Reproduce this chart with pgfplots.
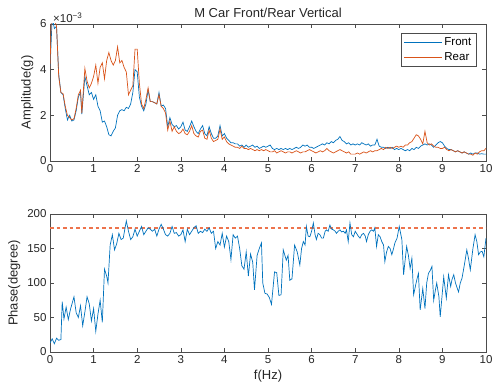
\documentclass[border=0pt]{standalone}
\usepackage{fontspec}
\setmainfont{Liberation Sans}
\usepackage{pgfplots}
\pgfplotsset{compat=1.18}
\definecolor{mblue}{rgb}{0,0.447,0.741}
\definecolor{morange}{rgb}{0.85,0.325,0.098}
\definecolor{mdash}{rgb}{0.93,0.45,0.30}
\pgfplotsset{
  mystyle/.style={
    scale only axis, width=436pt, xmin=0, xmax=10, xtick={0,1,...,10},
    tick align=inside, tick pos=both, major tick length=4pt,
    axis line style={draw=black!70, line width=0.5pt},
    tick style={draw=black!70, line width=0.5pt},
    tick label style={font=\fontsize{11.5}{12}\selectfont, text=black!85},
    label style={font=\fontsize{13}{14}\selectfont, text=black!85},
    title style={font=\fontsize{13}{14}\selectfont, text=black!85},
    every axis plot/.append style={line width=0.7pt},
    /pgf/number format/assume math mode=true,
    clip mode=individual,
  }
}
\begin{document}
\begin{tikzpicture}
\useasboundingbox (0pt,0pt) rectangle (493pt,390pt);
\begin{axis}[mystyle, at={(50pt,229pt)}, anchor=south west, height=137pt,
  ymin=0, ymax=6, ytick={0,2,4,6},
  ylabel={Amplitude(g)},
  title={M Car Front/Rear Vertical}, title style={yshift=-3pt},
  legend style={at={(0.977,0.934)}, anchor=north east, draw=black!70,
    font=\fontsize{11.5}{12}\selectfont, inner sep=2.5pt, row sep=1.5pt},
  legend cell align=left,
  legend image code/.code={\draw[#1] (0pt,0pt) -- (38pt,0pt);},
]
\addplot[draw=mblue] coordinates {
(0,4.0)(0.05,6.3)(0.1,5.8)(0.15,5.9)(0.2,3.8)(0.25,3.0)(0.3,2.9)(0.35,2.3)(0.4,1.8)(0.45,2.0)
(0.5,1.75)(0.55,1.8)(0.6,2.2)(0.65,2.8)(0.7,3.0)(0.73,2.05)(0.8,3.7)(0.85,3.3)(0.9,2.9)(0.95,3.0)
(1.0,2.7)(1.05,2.9)(1.1,2.4)(1.15,2.2)(1.2,1.7)(1.25,1.75)(1.3,1.5)(1.35,1.15)(1.4,1.1)(1.45,1.3)
(1.5,1.45)(1.55,2.0)(1.6,2.2)(1.65,2.25)(1.7,2.2)(1.75,2.35)(1.8,2.3)(1.85,2.5)(1.9,3.0)(1.95,4.0)
(2.0,3.9)(2.05,2.8)(2.1,2.4)(2.15,2.2)(2.2,2.5)(2.25,3.1)(2.3,2.6)(2.35,2.6)(2.4,2.55)(2.45,2.5)
(2.5,3.0)(2.55,2.4)(2.6,2.45)(2.65,2.3)(2.7,1.5)(2.75,1.9)(2.8,1.6)(2.85,1.5)(2.9,1.55)(2.95,1.4)
(3.0,1.5)(3.05,1.7)(3.1,1.35)(3.15,1.3)(3.2,1.5)(3.25,1.75)(3.3,1.5)(3.35,1.3)(3.4,1.2)(3.45,1.4)
(3.5,1.55)(3.55,1.2)(3.6,1.1)(3.65,1.5)(3.7,1.2)(3.75,1.0)(3.8,1.0)(3.85,1.1)(3.9,1.55)(3.95,1.1)
(4.0,1.2)(4.05,1.0)(4.1,0.9)(4.15,0.8)(4.2,0.8)(4.25,0.75)(4.3,0.75)(4.35,0.65)(4.4,0.7)(4.45,0.6)
(4.5,0.7)(4.55,0.6)(4.6,0.65)(4.65,0.7)(4.7,0.6)(4.75,0.65)(4.8,0.55)(4.85,0.6)(4.9,0.65)(4.95,0.6)
(5.0,0.65)(5.05,0.7)(5.1,0.55)(5.15,0.5)(5.2,0.55)(5.25,0.5)(5.3,0.55)(5.35,0.5)(5.4,0.55)(5.45,0.5)
(5.5,0.55)(5.55,0.5)(5.6,0.55)(5.65,0.6)(5.7,0.55)(5.75,0.6)(5.8,0.7)(5.85,0.65)(5.9,0.7)(5.95,0.6)
(6.0,0.6)(6.05,0.55)(6.1,0.6)(6.15,0.65)(6.2,0.7)(6.25,0.75)(6.3,0.7)(6.35,0.8)(6.4,0.75)(6.45,0.85)
(6.5,0.8)(6.55,0.9)(6.6,0.95)(6.65,1.07)(6.7,0.9)(6.75,0.85)(6.8,0.75)(6.85,0.8)(6.9,0.7)(6.95,0.75)
(7.0,0.7)(7.05,0.75)(7.1,0.7)(7.15,0.8)(7.2,0.75)(7.25,0.7)(7.3,0.75)(7.35,0.65)(7.4,0.7)(7.45,0.7)
(7.5,0.95)(7.55,0.65)(7.6,0.6)(7.65,0.6)(7.7,0.55)(7.75,0.6)(7.8,0.55)(7.85,0.6)(7.9,0.5)(7.95,0.55)
(8.0,0.5)(8.05,0.55)(8.1,0.5)(8.15,0.45)(8.2,0.5)(8.25,0.45)(8.3,0.55)(8.35,0.5)(8.4,0.6)(8.45,0.55)
(8.5,0.65)(8.55,0.7)(8.6,0.75)(8.65,0.7)(8.7,0.75)(8.75,0.7)(8.8,0.6)(8.85,0.7)(8.9,0.8)(8.95,0.85)
(9.0,0.8)(9.05,0.65)(9.1,0.55)(9.15,0.5)(9.2,0.5)(9.25,0.45)(9.3,0.4)(9.35,0.45)(9.4,0.4)(9.45,0.35)
(9.5,0.4)(9.55,0.35)(9.6,0.3)(9.65,0.35)(9.7,0.3)(9.75,0.35)(9.8,0.35)(9.85,0.3)(9.9,0.32)(9.95,0.3)(10,0.3)
};
\addlegendentry{Front}
\addplot[draw=morange] coordinates {
(0,4.0)(0.03,6.3)(0.1,6.2)(0.15,5.9)(0.2,3.7)(0.25,3.0)(0.3,2.95)(0.35,2.4)(0.4,2.0)(0.45,1.9)
(0.5,1.8)(0.55,1.85)(0.6,2.3)(0.65,2.9)(0.7,3.1)(0.73,2.1)(0.8,4.05)(0.85,3.5)(0.9,3.2)(0.95,3.4)
(1.0,3.7)(1.05,4.2)(1.1,3.4)(1.15,4.1)(1.2,4.3)(1.25,3.6)(1.3,4.4)(1.35,4.75)(1.4,4.4)(1.45,4.2)
(1.5,4.4)(1.55,5.0)(1.6,4.3)(1.65,4.4)(1.7,4.1)(1.75,3.9)(1.8,2.9)(1.85,3.1)(1.9,3.3)(1.95,4.9)
(2.0,4.9)(2.05,3.4)(2.1,2.5)(2.15,2.3)(2.2,2.7)(2.25,3.2)(2.3,2.6)(2.35,2.6)(2.4,2.55)(2.45,2.5)
(2.5,2.9)(2.55,2.4)(2.6,2.3)(2.65,2.1)(2.7,1.35)(2.75,1.75)(2.8,1.3)(2.85,1.5)(2.9,1.3)(2.95,1.2)
(3.0,1.25)(3.05,1.4)(3.1,1.2)(3.15,1.15)(3.2,1.3)(3.25,1.55)(3.3,1.2)(3.35,1.1)(3.4,1.05)(3.45,1.3)
(3.5,1.35)(3.55,1.0)(3.6,0.95)(3.65,1.35)(3.7,1.0)(3.75,0.85)(3.8,0.9)(3.85,0.95)(3.9,1.4)(3.95,0.95)
(4.0,1.05)(4.05,0.85)(4.1,0.75)(4.15,0.7)(4.2,0.65)(4.25,0.6)(4.3,0.6)(4.35,0.55)(4.4,0.65)(4.45,0.55)
(4.5,0.55)(4.55,0.5)(4.6,0.55)(4.65,0.5)(4.7,0.45)(4.75,0.5)(4.8,0.45)(4.85,0.5)(4.9,0.45)(4.95,0.5)
(5.0,0.45)(5.05,0.4)(5.1,0.4)(5.15,0.45)(5.2,0.35)(5.25,0.4)(5.3,0.45)(5.35,0.4)(5.4,0.35)(5.45,0.4)
(5.5,0.4)(5.55,0.35)(5.6,0.4)(5.65,0.45)(5.7,0.4)(5.75,0.35)(5.8,0.4)(5.85,0.4)(5.9,0.45)(5.95,0.5)
(6.0,0.45)(6.05,0.4)(6.1,0.35)(6.15,0.4)(6.2,0.45)(6.25,0.4)(6.3,0.45)(6.35,0.55)(6.4,0.45)(6.45,0.4)
(6.5,0.35)(6.55,0.4)(6.6,0.45)(6.65,0.5)(6.7,0.45)(6.75,0.4)(6.8,0.35)(6.85,0.4)(6.9,0.3)(6.95,0.3)
(7.0,0.3)(7.05,0.35)(7.1,0.3)(7.15,0.35)(7.2,0.4)(7.25,0.35)(7.3,0.4)(7.35,0.45)(7.4,0.4)(7.45,0.45)
(7.5,0.45)(7.55,0.5)(7.6,0.55)(7.65,0.5)(7.7,0.6)(7.75,0.55)(7.8,0.6)(7.85,0.55)(7.9,0.6)(7.95,0.65)
(8.0,0.6)(8.05,0.65)(8.1,0.6)(8.15,0.7)(8.2,0.7)(8.25,0.8)(8.3,0.85)(8.35,1.0)(8.4,1.15)(8.45,1.1)
(8.5,0.95)(8.55,0.75)(8.6,1.3)(8.65,0.8)(8.7,0.7)(8.75,0.75)(8.8,0.65)(8.85,0.6)(8.9,0.6)(8.95,0.55)
(9.0,0.55)(9.05,0.6)(9.1,0.5)(9.15,0.45)(9.2,0.5)(9.25,0.45)(9.3,0.4)(9.35,0.45)(9.4,0.4)(9.45,0.35)
(9.5,0.4)(9.55,0.35)(9.6,0.3)(9.65,0.3)(9.7,0.25)(9.75,0.35)(9.8,0.3)(9.85,0.4)(9.9,0.45)(9.95,0.45)(10,0.55)
};
\addlegendentry{Rear}
\node[anchor=south west, inner sep=1pt, xshift=2pt, font=\fontsize{11.5}{12}\selectfont, text=black!85] at (rel axis cs:0,1) {×10\textsuperscript{−3}};
\end{axis}
\begin{axis}[mystyle, at={(50pt,38pt)}, anchor=south west, height=138pt,
  ymin=0, ymax=200, ytick={0,50,100,150,200},
  ylabel={Phase(degree)}, xlabel={f(Hz)},
]
\addplot[draw=mdash, line width=1.5pt, dash pattern=on 3.5pt off 3pt, line cap=butt] coordinates {(0,180)(10,180)};
\addplot[draw=mblue] coordinates {
(0,13)(0.05,19)(0.1,12)(0.15,20)(0.2,17)(0.25,18)(0.28,73)(0.32,48)(0.37,65)(0.42,47)(0.47,62)
(0.55,80)(0.6,57)(0.65,50)(0.7,67)(0.75,38)(0.8,58)(0.85,80)(0.9,70)(0.95,45)(1.0,63)(1.05,30)
(1.1,55)(1.15,75)(1.2,43)(1.25,120)(1.3,110)(1.33,100)(1.38,155)(1.43,170)(1.48,148)(1.53,157)
(1.58,172)(1.63,163)(1.68,165)(1.75,190)(1.8,175)(1.85,163)(1.9,167)(1.95,178)(2.0,168)(2.05,175)
(2.1,182)(2.15,170)(2.2,175)(2.25,180)(2.3,178)(2.35,175)(2.4,178)(2.45,168)(2.5,178)(2.55,185)
(2.6,178)(2.65,170)(2.7,168)(2.75,172)(2.8,182)(2.85,172)(2.9,173)(2.95,168)(3.0,170)(3.05,177)
(3.1,160)(3.15,178)(3.2,170)(3.25,175)(3.3,180)(3.35,183)(3.4,172)(3.45,175)(3.5,173)(3.55,178)
(3.6,175)(3.65,180)(3.7,172)(3.75,175)(3.8,150)(3.85,160)(3.9,155)(3.95,172)(4.0,152)(4.05,168)
(4.1,160)(4.15,134)(4.2,170)(4.25,165)(4.3,168)(4.35,150)(4.4,125)(4.45,120)(4.5,145)(4.55,110)
(4.6,142)(4.65,130)(4.69,90)(4.75,140)(4.8,150)(4.85,158)(4.88,100)(4.93,85)(4.98,84)(5.03,79)
(5.08,69)(5.15,116)(5.2,115)(5.25,82)(5.3,83)(5.35,148)(5.42,133)(5.46,140)(5.5,104)(5.55,106)
(5.61,155)(5.67,145)(5.73,126)(5.77,150)(5.81,160)(5.85,155)(5.88,182)(5.92,168)(5.96,167)(6.0,175)
(6.04,187)(6.08,170)(6.11,163)(6.15,172)(6.19,170)(6.23,165)(6.27,165)(6.31,175)(6.34,177)(6.38,175)
(6.42,184)(6.46,178)(6.5,177)(6.54,175)(6.57,172)(6.61,175)(6.65,177)(6.69,174)(6.73,175)(6.77,172)
(6.8,177)(6.84,160)(6.88,187)(6.92,170)(6.96,167)(7.0,175)(7.03,172)(7.07,168)(7.11,165)(7.15,170)
(7.19,172)(7.23,168)(7.26,160)(7.3,170)(7.34,175)(7.38,177)(7.42,175)(7.45,180)(7.49,153)(7.53,170)
(7.57,167)(7.61,160)(7.65,155)(7.68,131)(7.72,145)(7.76,153)(7.8,150)(7.84,141)(7.88,150)(7.91,158)
(7.96,165)(8.01,182)(8.07,163)(8.11,112)(8.14,130)(8.18,153)(8.22,140)(8.26,121)(8.3,136)(8.34,83)
(8.38,95)(8.41,104)(8.45,114)(8.49,61)(8.55,92)(8.6,63)(8.64,100)(8.68,114)(8.72,118)(8.76,124)
(8.8,75)(8.84,90)(8.87,100)(8.92,80)(8.95,51)(8.99,80)(9.03,109)(9.09,78)(9.14,112)(9.19,95)
(9.22,105)(9.26,112)(9.3,100)(9.37,87)(9.41,100)(9.45,107)(9.5,125)(9.56,148)(9.6,135)(9.64,119)
(9.7,150)(9.75,170)(9.79,160)(9.83,141)(9.87,145)(9.91,146)(9.95,138)(10.0,165)
};
\end{axis}
\end{tikzpicture}
\end{document}
